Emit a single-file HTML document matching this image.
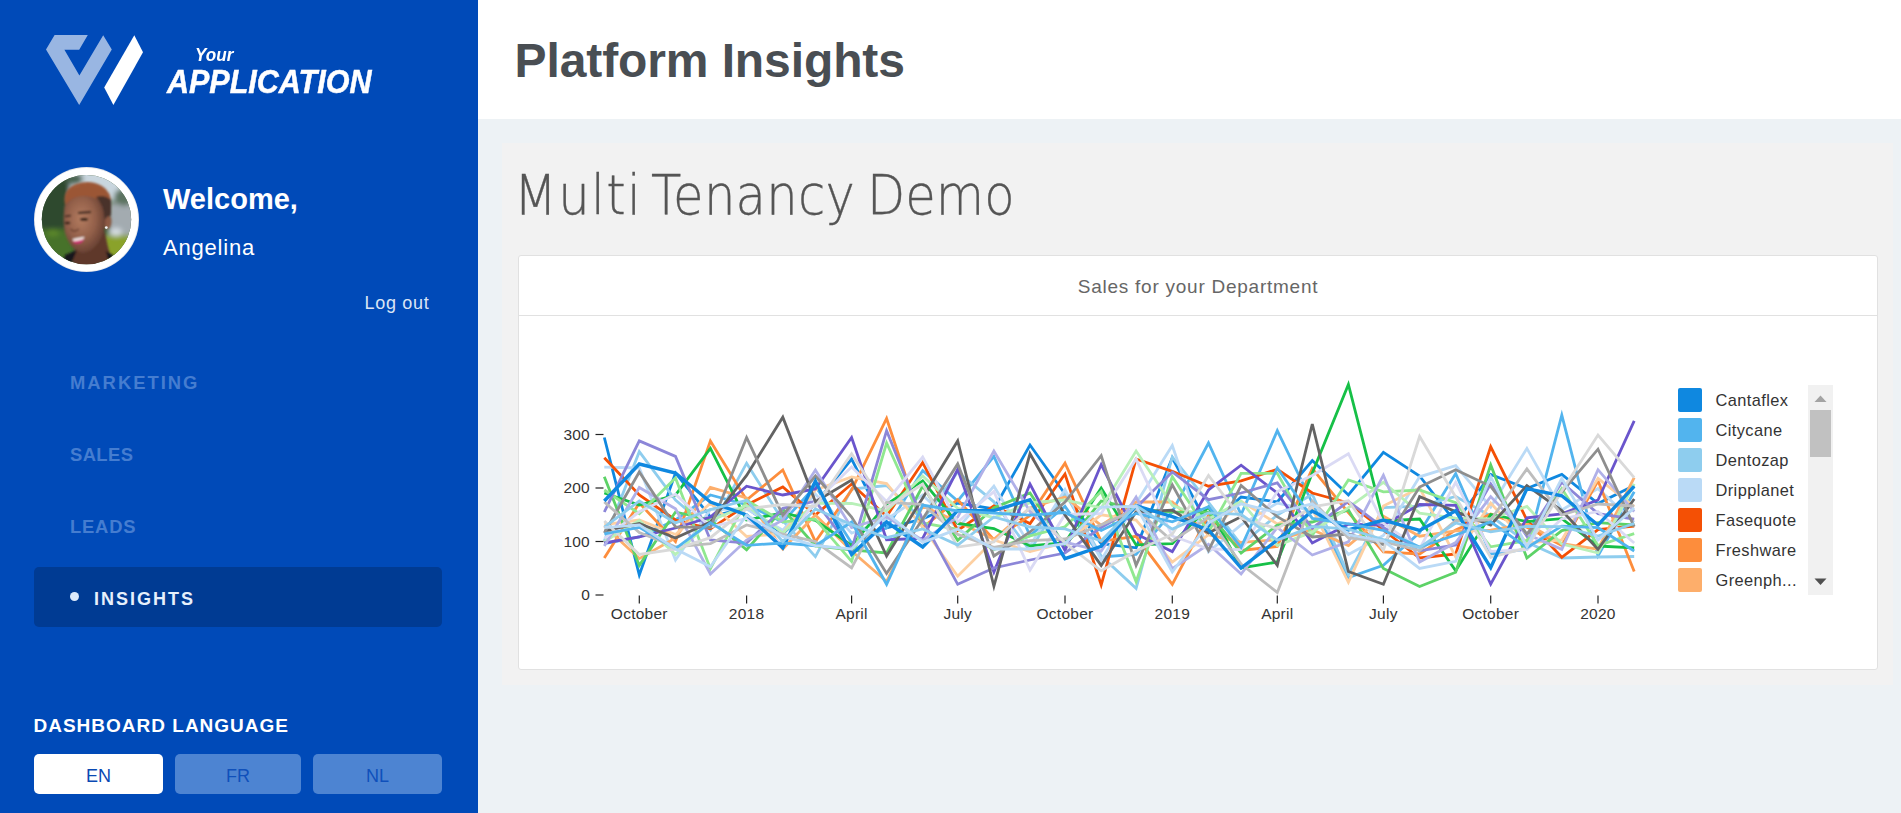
<!DOCTYPE html>
<html lang="en">
<head>
<meta charset="utf-8">
<title>Platform Insights</title>
<style>
*{box-sizing:border-box;margin:0;padding:0}
html,body{width:1901px;height:813px;overflow:hidden;background:#edf2f5;font-family:"Liberation Sans",sans-serif}
.abs{position:absolute;white-space:nowrap;line-height:1}
#side{position:absolute;left:0;top:0;width:478px;height:813px;background:#004ab8;color:#fff}
#logo{position:absolute;left:0;top:0}
#your{left:195px;top:45px;font-size:19px;font-weight:bold;font-style:italic;color:#fff;transform-origin:0 0;transform:scaleX(.9)}
#app{-webkit-text-stroke:.5px #fff;left:166.5px;top:64px;font-size:34px;font-weight:bold;font-style:italic;color:#fff;transform-origin:0 0;transform:scaleX(.897)}
#avatar{position:absolute;left:34px;top:167px;width:105px;height:105px}
#welcome{left:163px;top:185px;font-size:29px;font-weight:bold;color:#fff}
#uname{left:163px;top:237px;font-size:22px;letter-spacing:.8px;color:#fff}
#logout{left:364.5px;top:294px;font-size:18px;letter-spacing:.7px;color:#dbe5f5}
.mi{left:70px;font-size:18.4px;font-weight:bold;letter-spacing:2px;color:#457dd0}
#sel{position:absolute;left:34px;top:567px;width:408px;height:60px;border-radius:5px;background:#003b93}
#dot{position:absolute;left:70.2px;top:591.5px;width:9px;height:9px;border-radius:50%;background:#dceafc}
#ins{left:94px;top:590px;font-size:18px;font-weight:bold;letter-spacing:2px;color:#e6f0fc}
#dl{left:33.5px;top:716px;font-size:19px;font-weight:bold;letter-spacing:1px;color:#fff}
.lb{position:absolute;top:754px;height:40px;border-radius:5px;background:#4d84d2;color:#0f50bb;font-size:18px;text-align:center;line-height:44px}
#en{left:34px;width:129px;background:#fff;color:#0a49b3}
#fr{left:175px;width:126px}
#nl{left:313px;width:129px}
#head{position:absolute;left:478px;top:0;width:1423px;height:119px;background:#fff}
#title{left:514.5px;top:37px;font-size:48px;letter-spacing:-.1px;font-weight:bold;color:#494e53}
#frame{position:absolute;left:502px;top:142.5px;width:1391px;height:542.5px;background:#f2f2f2}
.h1w{top:168px;font-size:54.5px;color:#555;-webkit-text-stroke:.35px #555;transform-origin:0 0;transform:scaleX(.911);font-family:"DejaVu Sans Light","DejaVu Sans","Liberation Sans",sans-serif;font-weight:200}
#panel{position:absolute;left:518px;top:255px;width:1360px;height:415px;background:#fff;border:1.5px solid #e1e1e1;border-radius:3px}
#ptitle{position:absolute;left:518px;top:255.5px;width:1360px;height:60px;border-bottom:1px solid #e1e1e1;text-align:center;font-size:19px;letter-spacing:.75px;line-height:62.6px;color:#666}
</style>
</head>
<body>
<div id="side">
  <svg id="logo" width="478" height="140" viewBox="0 0 478 140">
    <polygon points="46,49.6 54.6,35 87.8,35 79.2,49.8 64.4,49.8 79.4,75.6 103.2,35.2 111.8,49.6 79.2,105" fill="#99b6e2"/>
    <polygon points="134.3,35.2 143,52.2 113.4,105 104.2,87.4" fill="#ffffff"/>
  </svg>
  <div class="abs" id="your">Your</div>
  <div class="abs" id="app">APPLICATION</div>
  <svg id="avatar" viewBox="0 0 105 105">
    <defs>
      <clipPath id="avc"><circle cx="52.5" cy="52.6" r="44.7"/></clipPath>
      <filter id="b1" x="-20%" y="-20%" width="140%" height="140%"><feGaussianBlur stdDeviation="0.8"/></filter>
      <filter id="b2" x="-30%" y="-30%" width="160%" height="160%"><feGaussianBlur stdDeviation="2.6"/></filter>
      <radialGradient id="skin" cx="0.42" cy="0.42" r="0.62"><stop offset="0" stop-color="#b47c60"/><stop offset="0.55" stop-color="#93604a"/><stop offset="1" stop-color="#633d30"/></radialGradient>
    </defs>
    <circle cx="52.5" cy="52.5" r="52.5" fill="#e4e6ea"/>
    <circle cx="52.5" cy="52.5" r="51.6" fill="#ffffff"/>
    <g clip-path="url(#avc)">
      <rect width="105" height="105" fill="#3d5a34"/>
      <g filter="url(#b2)">
        <rect x="30" y="0" width="70" height="34" fill="#c9d6de"/>
        <rect x="0" y="5" width="36" height="60" fill="#2f4a2d"/>
        <ellipse cx="40" cy="12" rx="9" ry="6" fill="#4a6350"/>
        <rect x="74" y="36" width="31" height="36" fill="#a3abb0"/>
        <ellipse cx="90" cy="30" rx="10" ry="9" fill="#5b7361"/>
        <rect x="0" y="62" width="40" height="34" fill="#47722a"/>
        <ellipse cx="19" cy="66" rx="6" ry="3" fill="#5f8a2b"/>
        <rect x="68" y="68" width="37" height="26" fill="#8aa22b"/>
        <ellipse cx="82" cy="65" rx="6" ry="4" fill="#d5dde2"/>
      </g>
      <g filter="url(#b1)">
        <path d="M40 84 L38 100 L80 100 L74 80 L70 62 Z" fill="#5f392b"/>
        <path d="M28 100 L31 88 L43 83 L36 100 Z" fill="#15171a"/>
        <path d="M72 84 L79 88 L82 100 L76 100 Z" fill="#15171a"/>
        <path d="M66 30 Q77 30 77 44 L76 52 L69 56 Z" fill="#3f2d29"/>
        <ellipse cx="74" cy="55.5" rx="3.4" ry="6.6" fill="#8d5a45" transform="rotate(8 74 55.5)"/>
        <path d="M30 44 Q30 28 50 27 Q69 27 71 46 Q73 66 62 79 Q54 88 45 85 Q35 80 31 66 Q29 56 30 44 Z" fill="url(#skin)"/>
        <path d="M31 38 Q28 22 42 17 Q56 12 68 19 Q78 25 77 38 Q76 42 72 41 Q66 30 52 29 Q40 28 33 36 Z" fill="#9b5636"/>
        <path d="M36 22 Q50 14 66 21 Q58 17 48 18 Z" fill="#b0653f"/>
        <path d="M62 30 Q70 27 77 33 L77 47 L70.5 52 Q70 38 62 30 Z" fill="#4a332c"/>
        <path d="M31 49.5 L37 48.5" stroke="#2a1a16" stroke-width="1.6" fill="none"/>
        <path d="M44 46 L57 45" stroke="#2a1a16" stroke-width="1.8" fill="none"/>
        <ellipse cx="33.5" cy="56" rx="3" ry="1.3" fill="#22140f"/>
        <ellipse cx="50" cy="52.3" rx="4" ry="1.5" fill="#22140f"/>
        <path d="M36.5 62 Q40 66 45 62" stroke="#6b4030" stroke-width="1.4" fill="none"/>
        <path d="M38.5 72 Q44 70.5 50.5 69.8 Q49 74.5 43 75.2 Q39.5 75.2 38.5 72 Z" fill="#efe6e2"/>
        <path d="M38.5 74.6 Q44 74 50 72.2 Q48.6 76.4 43 76.8 Q39.8 76.8 38.5 74.6 Z" fill="#cf2a72"/>
      </g>
      <circle cx="72.3" cy="60.6" r="1.4" fill="#f4f4f4"/>
    </g>
  </svg>
  <div class="abs" id="welcome">Welcome,</div>
  <div class="abs" id="uname">Angelina</div>
  <div class="abs" id="logout">Log out</div>
  <div class="abs mi" style="top:374px">MARKETING</div>
  <div class="abs mi" id="m2" style="top:446px;letter-spacing:.4px">SALES</div>
  <div class="abs mi" id="m3" style="top:518px;letter-spacing:.8px">LEADS</div>
  <div id="sel"></div><div id="dot"></div>
  <div class="abs" id="ins">INSIGHTS</div>
  <div class="abs" id="dl">DASHBOARD LANGUAGE</div>
  <div class="lb" id="en"><span id="ent">EN</span></div><div class="lb" id="fr"><span id="frt">FR</span></div><div class="lb" id="nl"><span id="nlt">NL</span></div>
</div>
<div id="head"></div>
<div class="abs" id="title">Platform Insights</div>
<div id="frame"></div>
<div class="abs h1w" id="w1" style="left:513.5px;letter-spacing:1.5px">Multi </div><div class="abs h1w" id="w2" style="left:651.1px;letter-spacing:.25px">Tenancy </div><div class="abs h1w" id="w3" style="left:866.6px">Demo</div>
<div id="panel"></div>
<div id="ptitle">Sales for your Department</div>
<!--CHART-->
<svg id="chart" width="1901" height="813" viewBox="0 0 1901 813" style="position:absolute;left:0;top:0" font-family="Liberation Sans, sans-serif">
<g fill="none" stroke-linejoin="miter" stroke-linecap="butt">
<polyline points="604.3,437.5 639.3,575 675.5,473 710.4,516.8 746.6,507.8 782.8,533.8 815.4,503.8 851.6,459 886.6,527.9 922.7,519.0 957.7,503.0 993.9,509 1030.0,445 1065.0,494 1101.2,543.7 1136.1,547.8 1172.3,457.8 1208.5,526.4 1241.1,497 1277.3,501.9 1312.3,460.5 1348.4,495 1383.4,452.3 1419.6,476 1455.7,522.5 1490.7,474.4 1526.9,488.6 1561.8,474.4 1598.0,503.6 1634.2,485.5" stroke="#0f88e0" stroke-width="2.8"/>
<polyline points="604.3,543.7 639.3,537 675.5,520 710.4,495 746.6,504.7 782.8,522.1 815.4,486 851.6,543.0 886.6,528 922.7,470.6 957.7,501 993.9,456.4 1030.0,535.6 1065.0,506.4 1101.2,557 1136.1,554.5 1172.3,511.6 1208.5,443 1241.1,514.6 1277.3,430.7 1312.3,503 1348.4,577.5 1383.4,565.2 1419.6,532.6 1455.7,473.6 1490.7,554 1526.9,549.3 1561.8,415.2 1598.0,555.7 1634.2,491.8" stroke="#52b4ee" stroke-width="2.8"/>
<polyline points="604.3,541 639.3,451.7 675.5,500 710.4,530.0 746.6,463.2 782.8,520.6 815.4,556.6 851.6,489 886.6,485.5 922.7,520 957.7,472 993.9,501.8 1030.0,550.8 1065.0,493 1101.2,556 1136.1,588.4 1172.3,457 1208.5,502.4 1241.1,544.6 1277.3,515.1 1312.3,494.3 1348.4,574.8 1383.4,507.5 1419.6,506.1 1455.7,496.5 1490.7,516.0 1526.9,542.4 1561.8,558 1598.0,557 1634.2,556.5" stroke="#8ecdee" stroke-width="2.8"/>
<polyline points="604.3,467.2 639.3,468 675.5,560 710.4,509.4 746.6,509 782.8,530.2 815.4,494 851.6,533.2 886.6,519.4 922.7,495 957.7,528.5 993.9,486.2 1030.0,545.7 1065.0,489.6 1101.2,560 1136.1,503.3 1172.3,445.6 1208.5,551.8 1241.1,524.8 1277.3,503.1 1312.3,510.7 1348.4,554.5 1383.4,535.4 1419.6,476.8 1455.7,465.7 1490.7,507 1526.9,448.4 1561.8,510 1598.0,488.6 1634.2,522.2" stroke="#badaf6" stroke-width="2.8"/>
<polyline points="604.3,457.8 639.3,495 675.5,520 710.4,528.8 746.6,505 782.8,486.9 815.4,515 851.6,484 886.6,516.3 922.7,462.5 957.7,530.4 993.9,505.8 1030.0,523.6 1065.0,474 1101.2,585 1136.1,459 1172.3,471.3 1208.5,486.2 1241.1,480.8 1277.3,469.3 1312.3,493 1348.4,503 1383.4,530 1419.6,558 1455.7,554 1490.7,446.8 1526.9,520 1561.8,557.3 1598.0,529.7 1634.2,526" stroke="#f45005" stroke-width="2.8"/>
<polyline points="604.3,558 639.3,503 675.5,541.7 710.4,440.9 746.6,500 782.8,470 815.4,541.7 851.6,490 886.6,418.5 922.7,527.5 957.7,499.7 993.9,539.7 1030.0,515.6 1065.0,463.2 1101.2,541.3 1136.1,536.3 1172.3,584.3 1208.5,515.3 1241.1,550.5 1277.3,546.4 1312.3,468.6 1348.4,512.7 1383.4,551.8 1419.6,554 1455.7,529.9 1490.7,514 1526.9,527.3 1561.8,545.5 1598.0,480.7 1634.2,571.5" stroke="#fd8d3c" stroke-width="2.8"/>
<polyline points="604.3,526 639.3,558.6 675.5,537.9 710.4,487.5 746.6,498 782.8,549 815.4,515.0 851.6,551.0 886.6,581.6 922.7,506.1 957.7,521.7 993.9,539.4 1030.0,507.9 1065.0,497 1101.2,525.4 1136.1,501.8 1172.3,502.0 1208.5,534.7 1241.1,542.4 1277.3,539.8 1312.3,529.8 1348.4,545.5 1383.4,516.3 1419.6,536.2 1455.7,530.9 1490.7,530.2 1526.9,523.7 1561.8,543.7 1598.0,549.1 1634.2,477.6" stroke="#fdae6b" stroke-width="2.8"/>
<polyline points="604.3,524.7 639.3,520 675.5,534.5 710.4,503.2 746.6,536.5 782.8,533.7 815.4,490 851.6,477 886.6,483.5 922.7,527 957.7,576.2 993.9,540 1030.0,551.6 1065.0,542.7 1101.2,514.8 1136.1,520.1 1172.3,562 1208.5,534.8 1241.1,501.2 1277.3,524.0 1312.3,508.7 1348.4,582.3 1383.4,506.1 1419.6,487.8 1455.7,557 1490.7,503.1 1526.9,543 1561.8,539.9 1598.0,478.4 1634.2,506.7" stroke="#fdd0a2" stroke-width="2.8"/>
<polyline points="604.3,493 639.3,505 675.5,495 710.4,448.3 746.6,520 782.8,512.9 815.4,520.3 851.6,545.3 886.6,504.2 922.7,480.8 957.7,523.4 993.9,528.6 1030.0,545.9 1065.0,542.6 1101.2,488.2 1136.1,544.9 1172.3,543.7 1208.5,507 1241.1,568 1277.3,562 1312.3,473 1348.4,384.5 1383.4,521 1419.6,519 1455.7,570.7 1490.7,514.5 1526.9,521.6 1561.8,518.7 1598.0,546 1634.2,547.9" stroke="#16c047" stroke-width="2.8"/>
<polyline points="604.3,476.7 639.3,565.4 675.5,512 710.4,520 746.6,549.8 782.8,509 815.4,546.0 851.6,549.8 886.6,553 922.7,486 957.7,540.3 993.9,507.8 1030.0,493 1065.0,545.7 1101.2,501 1136.1,509.2 1172.3,512.1 1208.5,512.1 1241.1,553 1277.3,525.2 1312.3,522 1348.4,510 1383.4,568.4 1419.6,586.5 1455.7,572.3 1490.7,465 1526.9,558 1561.8,530.6 1598.0,522.6 1634.2,525" stroke="#5dd267" stroke-width="2.8"/>
<polyline points="604.3,490 639.3,513.7 675.5,478 710.4,568.7 746.6,500.2 782.8,521.8 815.4,519.2 851.6,561.3 886.6,443 922.7,523 957.7,529.4 993.9,549.6 1030.0,535.9 1065.0,526.8 1101.2,491.6 1136.1,581.6 1172.3,476.7 1208.5,532.1 1241.1,473.3 1277.3,473.3 1312.3,535.2 1348.4,480 1383.4,491.8 1419.6,490 1455.7,502.8 1490.7,546.8 1526.9,540.6 1561.8,488.6 1598.0,545.5 1634.2,533.7" stroke="#90e890" stroke-width="2.8"/>
<polyline points="604.3,541.5 639.3,520.4 675.5,554.5 710.4,520.7 746.6,505.4 782.8,533.0 815.4,503.2 851.6,503.5 886.6,510.9 922.7,476 957.7,508.4 993.9,517.7 1030.0,502.7 1065.0,500.0 1101.2,507.9 1136.1,451 1172.3,505.3 1208.5,518.9 1241.1,501.3 1277.3,545.5 1312.3,531.9 1348.4,507.7 1383.4,482.3 1419.6,513.1 1455.7,518.1 1490.7,518.9 1526.9,506.4 1561.8,544.1 1598.0,553 1634.2,483.9" stroke="#b8f0b8" stroke-width="2.8"/>
<polyline points="604.3,543 639.3,537 675.5,528 710.4,517 746.6,486.2 782.8,495 815.4,489 851.6,437.5 886.6,539.7 922.7,538.3 957.7,469.3 993.9,572 1030.0,484 1065.0,550.5 1101.2,464.5 1136.1,534 1172.3,551.6 1208.5,490 1241.1,465.2 1277.3,493 1312.3,543 1348.4,524.2 1383.4,525.2 1419.6,504.5 1455.7,505.3 1490.7,584.2 1526.9,517.8 1561.8,513.8 1598.0,500 1634.2,420.8" stroke="#6a55cc" stroke-width="2.8"/>
<polyline points="604.3,512 639.3,440.9 675.5,456.4 710.4,540 746.6,543.1 782.8,508.4 815.4,501.2 851.6,549.5 886.6,430.7 922.7,520 957.7,584.3 993.9,568 1030.0,560 1065.0,553 1101.2,527.5 1136.1,507.6 1172.3,472 1208.5,499.7 1241.1,493 1277.3,482.8 1312.3,528.2 1348.4,501.4 1383.4,527.5 1419.6,550.9 1455.7,544.9 1490.7,483.9 1526.9,536.2 1561.8,482.3 1598.0,513.6 1634.2,519.1" stroke="#8c86d8" stroke-width="2.8"/>
<polyline points="604.3,546 639.3,487.5 675.5,508.7 710.4,574 746.6,540.1 782.8,520 815.4,470 851.6,527.7 886.6,516.7 922.7,540.5 957.7,517.1 993.9,451 1030.0,511.6 1065.0,542.2 1101.2,551.2 1136.1,497 1172.3,568.7 1208.5,544.3 1241.1,574 1277.3,527.5 1312.3,555 1348.4,541.9 1383.4,475.2 1419.6,562 1455.7,542.6 1490.7,496.6 1526.9,534.4 1561.8,549.4 1598.0,469.7 1634.2,511.6" stroke="#b0b0e8" stroke-width="2.8"/>
<polyline points="604.3,538.5 639.3,511.8 675.5,494.3 710.4,526.9 746.6,518.5 782.8,545 815.4,501.5 851.6,467 886.6,501.5 922.7,457 957.7,522 993.9,491.6 1030.0,570 1065.0,514.5 1101.2,513.5 1136.1,459 1172.3,536.0 1208.5,549 1241.1,549.7 1277.3,491.6 1312.3,475.4 1348.4,453.7 1383.4,523.3 1419.6,548.7 1455.7,482.3 1490.7,551.4 1526.9,549.7 1561.8,519.0 1598.0,511.5 1634.2,543" stroke="#dadaf4" stroke-width="2.8"/>
<polyline points="604.3,531 639.3,523.4 675.5,538 710.4,522 746.6,475.4 782.8,417.2 815.4,501.8 851.6,480 886.6,556 922.7,498 957.7,440.9 993.9,586.3 1030.0,453.7 1065.0,515 1101.2,565.4 1136.1,511.8 1172.3,510.2 1208.5,532.9 1241.1,516.7 1277.3,565.4 1312.3,424 1348.4,571.5 1383.4,584.2 1419.6,496.6 1455.7,511.6 1490.7,525 1526.9,485.5 1561.8,510.6 1598.0,549.4 1634.2,499" stroke="#636363" stroke-width="2.8"/>
<polyline points="604.3,533 639.3,472 675.5,526.8 710.4,527.5 746.6,437.5 782.8,515.3 815.4,476 851.6,517 886.6,573.5 922.7,519 957.7,463.9 993.9,556 1030.0,532 1065.0,502 1101.2,455.7 1136.1,565.4 1172.3,484.8 1208.5,550.5 1241.1,485.5 1277.3,516.7 1312.3,537 1348.4,534 1383.4,544.7 1419.6,487 1455.7,469.7 1490.7,486.3 1526.9,534 1561.8,492 1598.0,449.2 1634.2,526.6" stroke="#8e8e8e" stroke-width="2.8"/>
<polyline points="604.3,502 639.3,532.5 675.5,546.8 710.4,543.7 746.6,524.9 782.8,534.0 815.4,541.6 851.6,568 886.6,502.4 922.7,504.4 957.7,534.4 993.9,547.3 1030.0,540.7 1065.0,539.0 1101.2,524.9 1136.1,509.3 1172.3,541.0 1208.5,517.3 1241.1,564 1277.3,592.4 1312.3,501 1348.4,538 1383.4,541.6 1419.6,550.5 1455.7,520.6 1490.7,520 1526.9,468.9 1561.8,515 1598.0,504 1634.2,506" stroke="#bdbdbd" stroke-width="2.8"/>
<polyline points="604.3,520.9 639.3,554.5 675.5,549.2 710.4,537.7 746.6,508.8 782.8,504.5 815.4,506.6 851.6,453.7 886.6,507.9 922.7,484 957.7,547.1 993.9,541.9 1030.0,507.6 1065.0,543.0 1101.2,570.8 1136.1,551.0 1172.3,534.2 1208.5,475.4 1241.1,518.2 1277.3,528.5 1312.3,506.8 1348.4,500.7 1383.4,550.5 1419.6,436.5 1455.7,497 1490.7,557.3 1526.9,547.9 1561.8,491 1598.0,435 1634.2,477.6" stroke="#d9d9d9" stroke-width="2.8"/>
<polyline points="604.3,501 639.3,464 675.5,473 710.4,502 746.6,515 782.8,548 815.4,481 851.6,554.5 886.6,522 922.7,547 957.7,510.6 993.9,510.6 1030.0,499.7 1065.0,558.6 1101.2,546.4 1136.1,505.8 1172.3,516.7 1208.5,530 1241.1,568 1277.3,540 1312.3,511 1348.4,530 1383.4,520 1419.6,530.5 1455.7,510.8 1490.7,567.6 1526.9,488.7 1561.8,495.8 1598.0,525 1634.2,486.3" stroke="#0f88e0" stroke-width="3.4"/>
<polyline points="604.3,533.8 639.3,527.4 675.5,548.5 710.4,522.6 746.6,545.3 782.8,543.0 815.4,545.7 851.6,522 886.6,584.3 922.7,505 957.7,511.0 993.9,513.1 1030.0,515.2 1065.0,512.5 1101.2,530.5 1136.1,513.5 1172.3,521.8 1208.5,506.8 1241.1,547.3 1277.3,468 1312.3,518.4 1348.4,523.8 1383.4,530.3 1419.6,547.0 1455.7,535 1490.7,521.9 1526.9,547.7 1561.8,526.1 1598.0,527.7 1634.2,551" stroke="#52b4ee" stroke-width="2.8"/>
<polyline points="604.3,527.2 639.3,501.0 675.5,522.9 710.4,509.5 746.6,500.2 782.8,541.6 815.4,509.0 851.6,524.6 886.6,537.7 922.7,528.9 957.7,545 993.9,517.0 1030.0,527.0 1065.0,528.9 1101.2,540.8 1136.1,505.5 1172.3,529.1 1208.5,512.9 1241.1,514.4 1277.3,540.2 1312.3,526.4 1348.4,529.2 1383.4,539.5 1419.6,547.4 1455.7,523.0 1490.7,531.9 1526.9,526.3 1561.8,526.6 1598.0,536.0 1634.2,523.5" stroke="#8ecdee" stroke-width="2.8"/>
<polyline points="604.3,527.7 639.3,524.9 675.5,549.0 710.4,566.7 746.6,515 782.8,536.4 815.4,545.6 851.6,549.0 886.6,513.5 922.7,542.4 957.7,529.1 993.9,549 1030.0,549.0 1065.0,543.7 1101.2,507.1 1136.1,506.3 1172.3,572 1208.5,523.0 1241.1,503.8 1277.3,512.5 1312.3,503.8 1348.4,534.8 1383.4,540.8 1419.6,568.4 1455.7,561.3 1490.7,476.8 1526.9,546.6 1561.8,478.4 1598.0,540 1634.2,508.0" stroke="#badaf6" stroke-width="2.8"/>
</g>
<g stroke="#222" stroke-width="1.2">
<line x1="595.5" y1="595" x2="603.5" y2="595"/>
<line x1="595.5" y1="541.5" x2="603.5" y2="541.5"/>
<line x1="595.5" y1="488" x2="603.5" y2="488"/>
<line x1="595.5" y1="434.5" x2="603.5" y2="434.5"/>
<line x1="639.3" y1="595.5" x2="639.3" y2="603.5"/>
<line x1="746.6" y1="595.5" x2="746.6" y2="603.5"/>
<line x1="851.6" y1="595.5" x2="851.6" y2="603.5"/>
<line x1="957.7" y1="595.5" x2="957.7" y2="603.5"/>
<line x1="1065.0" y1="595.5" x2="1065.0" y2="603.5"/>
<line x1="1172.3" y1="595.5" x2="1172.3" y2="603.5"/>
<line x1="1277.3" y1="595.5" x2="1277.3" y2="603.5"/>
<line x1="1383.4" y1="595.5" x2="1383.4" y2="603.5"/>
<line x1="1490.7" y1="595.5" x2="1490.7" y2="603.5"/>
<line x1="1598.0" y1="595.5" x2="1598.0" y2="603.5"/>
</g>
<g fill="#333" font-size="15.5" letter-spacing=".25">
<text x="590" y="600.4" text-anchor="end">0</text>
<text x="590" y="546.9" text-anchor="end">100</text>
<text x="590" y="493.4" text-anchor="end">200</text>
<text x="590" y="439.9" text-anchor="end">300</text>
<text x="639.3" y="618.6" text-anchor="middle">October</text>
<text x="746.6" y="618.6" text-anchor="middle">2018</text>
<text x="851.6" y="618.6" text-anchor="middle">April</text>
<text x="957.7" y="618.6" text-anchor="middle">July</text>
<text x="1065.0" y="618.6" text-anchor="middle">October</text>
<text x="1172.3" y="618.6" text-anchor="middle">2019</text>
<text x="1277.3" y="618.6" text-anchor="middle">April</text>
<text x="1383.4" y="618.6" text-anchor="middle">July</text>
<text x="1490.7" y="618.6" text-anchor="middle">October</text>
<text x="1598.0" y="618.6" text-anchor="middle">2020</text>
</g>
<rect x="1678" y="388" width="24" height="24" rx="2" fill="#0f88e0"/>
<text x="1715.5" y="405.6" font-size="16.4" letter-spacing=".4" fill="#333">Cantaflex</text>
<rect x="1678" y="418" width="24" height="24" rx="2" fill="#52b4ee"/>
<text x="1715.5" y="435.6" font-size="16.4" letter-spacing=".4" fill="#333">Citycane</text>
<rect x="1678" y="448" width="24" height="24" rx="2" fill="#8ecdee"/>
<text x="1715.5" y="465.6" font-size="16.4" letter-spacing=".4" fill="#333">Dentozap</text>
<rect x="1678" y="478" width="24" height="24" rx="2" fill="#badaf6"/>
<text x="1715.5" y="495.6" font-size="16.4" letter-spacing=".4" fill="#333">Dripplanet</text>
<rect x="1678" y="508" width="24" height="24" rx="2" fill="#f45005"/>
<text x="1715.5" y="525.6" font-size="16.4" letter-spacing=".4" fill="#333">Fasequote</text>
<rect x="1678" y="538" width="24" height="24" rx="2" fill="#fd8d3c"/>
<text x="1715.5" y="555.6" font-size="16.4" letter-spacing=".4" fill="#333">Freshware</text>
<rect x="1678" y="568" width="24" height="24" rx="2" fill="#fdae6b"/>
<text x="1715.5" y="585.6" font-size="16.4" letter-spacing=".4" fill="#333">Greenph...</text>
<rect x="1808" y="385" width="25" height="210" fill="#f1f1f1"/>
<rect x="1810" y="410" width="21" height="47" fill="#c1c1c1"/>
<polygon points="1814.5,402 1820.5,395.5 1826.5,402" fill="#a3a3a3"/>
<polygon points="1814.5,578.5 1826.5,578.5 1820.5,585" fill="#505050"/>
</svg>
<!--/CHART-->
</body>
</html>
